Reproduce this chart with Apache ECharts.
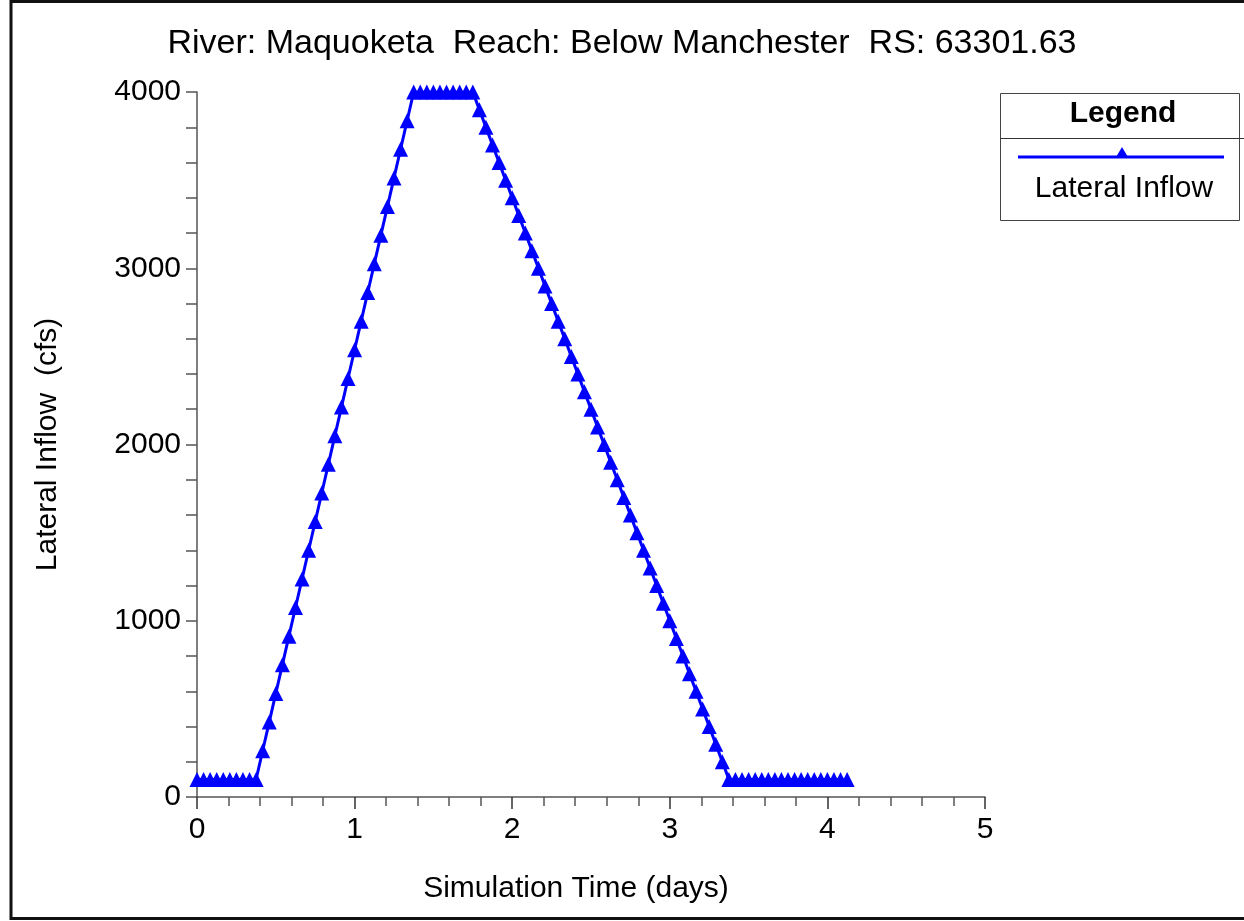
<!DOCTYPE html>
<html>
<head>
<meta charset="utf-8">
<script src="https://cdn.jsdelivr.net/npm/echarts@6/dist/echarts.min.js"></script>
<style>
html,body{margin:0;padding:0;background:#fff;}
#chart{width:1244px;height:921px;}
</style>
</head>
<body>
<div id="chart"></div>
<script>
// Simulation time in hours (converted to days for the axis)
const timeHours = [
  0,1,2,3,4,5,6,7,8,9,
  10,11,12,13,14,15,16,17,18,19,20,21,22,23,24,25,26,27,28,29,30,31,32,33,
  34,35,36,37,38,39,40,41,42,
  43,44,45,46,47,48,49,50,51,52,53,54,55,56,57,58,59,60,61,62,63,64,65,66,67,68,69,70,71,72,73,74,75,76,77,78,79,80,81,
  82,83,84,85,86,87,88,89,90,91,92,93,94,95,96,97,98,99
];
// Lateral inflow (cfs)
const lateralInflow = [
  100,100,100,100,100,100,100,100,100,100,
  262.5,425,587.5,750,912.5,1075,1237.5,1400,1562.5,1725,1887.5,2050,2212.5,2375,2537.5,2700,2862.5,3025,3187.5,3350,3512.5,3675,3837.5,4000,
  4000,4000,4000,4000,4000,4000,4000,4000,4000,
  3900,3800,3700,3600,3500,3400,3300,3200,3100,3000,2900,2800,2700,2600,2500,2400,2300,2200,2100,2000,1900,1800,1700,1600,1500,1400,1300,1200,1100,1000,900,800,700,600,500,400,300,200,100,
  100,100,100,100,100,100,100,100,100,100,100,100,100,100,100,100,100,100
];
const xTicks = [0,1,2,3,4,5];
const yTicks = [0,1000,2000,3000,4000];
const titleText = 'River: Maquoketa  Reach: Below Manchester  RS: 63301.63';
const seriesName = 'Lateral Inflow';

const FONT = '"Liberation Sans", Arial, sans-serif';
const points = timeHours.map((h, i) => [h / 24, lateralInflow[i]]);

const chart = echarts.init(document.getElementById('chart'), null, {renderer: 'canvas'});
chart.setOption({
  animation: false,
  backgroundColor: '#fff',
  title: {
    text: titleText,
    left: 'center',
    top: 22,
    textStyle: {fontFamily: FONT, fontSize: 34, fontWeight: 'normal', color: '#000'}
  },
  grid: {left: 197, right: 259, top: 92, bottom: 124, containLabel: false},
  xAxis: {
    type: 'value',
    min: xTicks[0], max: xTicks[xTicks.length - 1], interval: 1,
    name: 'Simulation Time (days)',
    nameLocation: 'middle',
    nameGap: 77,
    nameTextStyle: {fontFamily: FONT, fontSize: 30, color: '#000', padding: [0, 30, 0, 0]},
    axisLine: {show: true, lineStyle: {color: '#555', width: 1.5}},
    axisTick: {show: true, length: 12, lineStyle: {color: '#333', width: 1.5}},
    minorTick: {show: true, splitNumber: 5, length: 9, lineStyle: {color: '#555', width: 1.5}},
    axisLabel: {fontFamily: FONT, fontSize: 30, color: '#000', margin: 18},
    splitLine: {show: false}
  },
  yAxis: {
    type: 'value',
    min: yTicks[0], max: yTicks[yTicks.length - 1], interval: 1000,
    name: 'Lateral Inflow  (cfs)',
    nameLocation: 'middle',
    nameGap: 134,
    nameTextStyle: {fontFamily: FONT, fontSize: 30, color: '#000'},
    axisLine: {show: true, lineStyle: {color: '#555', width: 1.5}},
    axisTick: {show: true, length: 11, lineStyle: {color: '#555', width: 1.5}},
    minorTick: {show: true, splitNumber: 5, length: 11, lineStyle: {color: '#555', width: 1.5}},
    axisLabel: {fontFamily: FONT, fontSize: 30, color: '#000', margin: 16, formatter: v => String(v)},
    splitLine: {show: false}
  },
  series: [{
    name: seriesName,
    type: 'line',
    data: points,
    symbol: 'triangle',
    symbolSize: 15,
    showAllSymbol: true,
    lineStyle: {color: '#0000FF', width: 3},
    itemStyle: {color: '#0000FF'}
  }],
  graphic: [
    {type: 'rect', shape: {x: 11, y: 1.5, width: 1260, height: 917}, style: {fill: 'none', stroke: '#111', lineWidth: 3}, silent: true},
    {type: 'rect', shape: {x: 1000.5, y: 93.5, width: 239, height: 127}, style: {fill: '#fff', stroke: '#444', lineWidth: 1}},
    {type: 'line', shape: {x1: 1000, y1: 138.5, x2: 1244, y2: 138.5}, style: {stroke: '#333', lineWidth: 1}},
    {type: 'text', x: 1123, y: 114, style: {text: 'Legend', fontFamily: FONT, fontSize: 30, fontWeight: 'bold', fill: '#000', align: 'center', verticalAlign: 'middle'}},
    {type: 'line', shape: {x1: 1018, y1: 157, x2: 1224, y2: 157}, style: {stroke: '#0000FF', lineWidth: 3}},
    {type: 'polygon', shape: {points: [[1122, 147], [1115.5, 158], [1128.5, 158]]}, style: {fill: '#0000FF'}},
    {type: 'text', x: 1124, y: 189, style: {text: seriesName, fontFamily: FONT, fontSize: 30, fill: '#000', align: 'center', verticalAlign: 'middle'}}
  ]
});
</script>
</body>
</html>
